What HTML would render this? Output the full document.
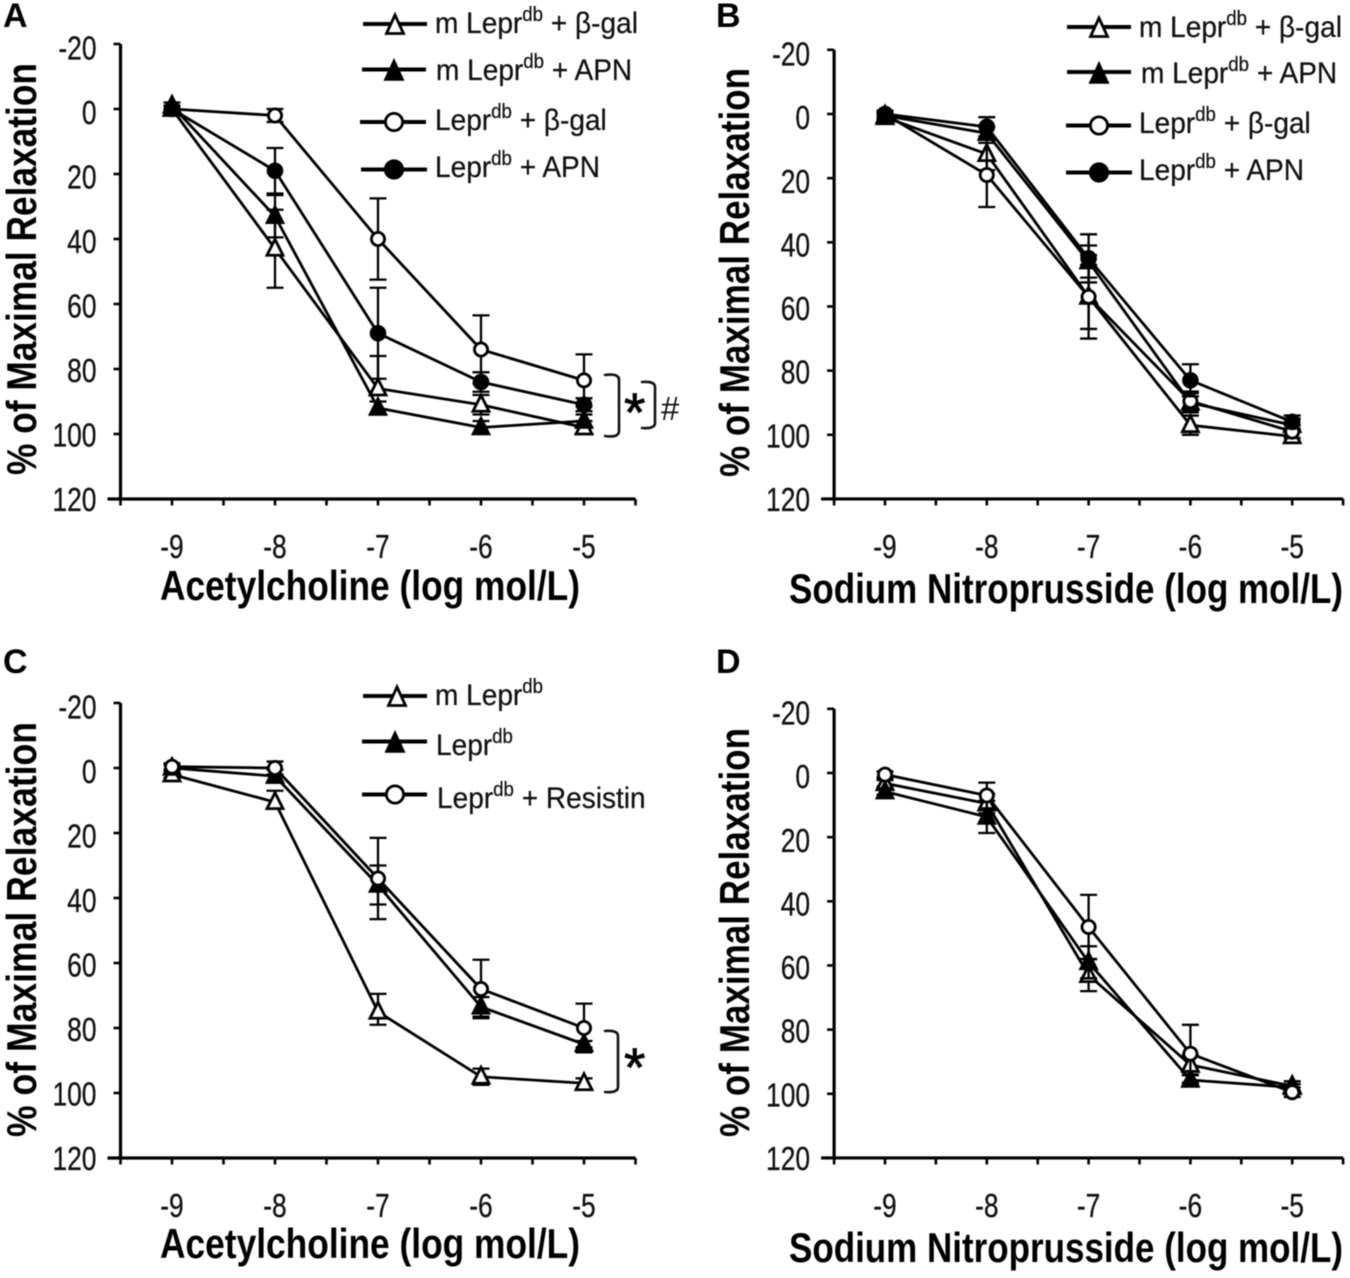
<!DOCTYPE html>
<html lang="en">
<head>
<meta charset="utf-8">
<title>Vascular relaxation dose-response curves</title>
<style>
  html, body { margin: 0; padding: 0; background: #fff; }
  svg { display: block; font-family: "Liberation Sans", sans-serif; filter: blur(0.4px); }
  .title { font-weight: bold; font-size: 42px; fill: #000; }
  .panel-letter { font-weight: bold; font-size: 34px; fill: #000; }
  .legend-text { font-size: 30px; fill: #111; stroke: #111; stroke-width: .25; }
  .legend-sup { font-size: 20px; }
  .tick-label { font-size: 33px; fill: #111; stroke: #111; stroke-width: .3; }
  .leg-line { stroke: #000; stroke-width: 4; fill: none; }
  .mark-open { fill: #fff; stroke: #000; stroke-width: 2.8; }
  .mark-filled { fill: #000; stroke: #000; stroke-width: 2.6; }
  .bracket { fill: none; stroke: #111; stroke-width: 2.6; stroke-linecap: round; stroke-linejoin: round; }
</style>
</head>
<body>
<svg id="figure" xmlns="http://www.w3.org/2000/svg" width="1350" height="1278" viewBox="0 0 1350 1278">
  <rect x="0" y="0" width="1350" height="1278" fill="#fff"/>

  <text class="panel-letter" x="3" y="27">A</text>
  <text class="panel-letter" x="716" y="27">B</text>
  <text class="panel-letter" x="3" y="673">C</text>
  <text class="panel-letter" x="716" y="673">D</text>

  <text class="title" transform="translate(36,475) rotate(-90)" textLength="412" lengthAdjust="spacingAndGlyphs">% of Maximal Relaxation</text>
  <text class="title" transform="translate(749,477) rotate(-90)" textLength="409" lengthAdjust="spacingAndGlyphs">% of Maximal Relaxation</text>
  <text class="title" transform="translate(36,1137) rotate(-90)" textLength="415" lengthAdjust="spacingAndGlyphs">% of Maximal Relaxation</text>
  <text class="title" transform="translate(749,1137) rotate(-90)" textLength="409" lengthAdjust="spacingAndGlyphs">% of Maximal Relaxation</text>

  <text class="title" x="160" y="600" textLength="420" lengthAdjust="spacingAndGlyphs">Acetylcholine (log mol/L)</text>
  <text class="title" x="789" y="603" textLength="554" lengthAdjust="spacingAndGlyphs">Sodium Nitroprusside (log mol/L)</text>
  <text class="title" x="160" y="1258" textLength="420" lengthAdjust="spacingAndGlyphs">Acetylcholine (log mol/L)</text>
  <text class="title" x="789" y="1262" textLength="554" lengthAdjust="spacingAndGlyphs">Sodium Nitroprusside (log mol/L)</text>

  <g id="charts"></g>

  <g>
    <g>
      <line class="leg-line" x1="363" y1="24" x2="427" y2="24"/>
      <polygon class="mark-open" points="395,15 386.5,33.5 403.5,33.5"/>
      <text class="legend-text" transform="translate(435,33) scale(.935,1)">m Lepr<tspan class="legend-sup" dy="-12">db</tspan><tspan dy="12"> + β-gal</tspan></text>
    </g>
    <g>
      <line class="leg-line" x1="362" y1="69.5" x2="426" y2="69.5"/>
      <polygon class="mark-filled" points="394,61 385.5,79.5 402.5,79.5"/>
      <text class="legend-text" transform="translate(436,80) scale(.935,1)">m Lepr<tspan class="legend-sup" dy="-12">db</tspan><tspan dy="12"> + APN</tspan></text>
    </g>
    <g>
      <line class="leg-line" x1="360" y1="122" x2="426" y2="122"/>
      <circle class="mark-open" cx="394" cy="122" r="8.6"/>
      <text class="legend-text" transform="translate(435,130) scale(.935,1)">Lepr<tspan class="legend-sup" dy="-12">db</tspan><tspan dy="12"> + β-gal</tspan></text>
    </g>
    <g>
      <line class="leg-line" x1="361" y1="169.5" x2="427" y2="169.5"/>
      <circle class="mark-filled" cx="394" cy="169.5" r="8.8"/>
      <text class="legend-text" transform="translate(435,177) scale(.935,1)">Lepr<tspan class="legend-sup" dy="-12">db</tspan><tspan dy="12"> + APN</tspan></text>
    </g>
  </g>

  <g>
    <g>
      <line class="leg-line" x1="1067" y1="27" x2="1131" y2="27"/>
      <polygon class="mark-open" points="1099,18 1090.5,36.5 1107.5,36.5"/>
      <text class="legend-text" transform="translate(1139,37) scale(.935,1)">m Lepr<tspan class="legend-sup" dy="-12">db</tspan><tspan dy="12"> + β-gal</tspan></text>
    </g>
    <g>
      <line class="leg-line" x1="1067" y1="72" x2="1131" y2="72"/>
      <polygon class="mark-filled" points="1099,64 1090.5,82.5 1107.5,82.5"/>
      <text class="legend-text" transform="translate(1141,83) scale(.935,1)">m Lepr<tspan class="legend-sup" dy="-12">db</tspan><tspan dy="12"> + APN</tspan></text>
    </g>
    <g>
      <line class="leg-line" x1="1066" y1="125.5" x2="1131" y2="125.5"/>
      <circle class="mark-open" cx="1099" cy="125.5" r="8.6"/>
      <text class="legend-text" transform="translate(1139,133) scale(.935,1)">Lepr<tspan class="legend-sup" dy="-12">db</tspan><tspan dy="12"> + β-gal</tspan></text>
    </g>
    <g>
      <line class="leg-line" x1="1066" y1="172.5" x2="1132" y2="172.5"/>
      <circle class="mark-filled" cx="1099" cy="172.5" r="8.8"/>
      <text class="legend-text" transform="translate(1139,180) scale(.935,1)">Lepr<tspan class="legend-sup" dy="-12">db</tspan><tspan dy="12"> + APN</tspan></text>
    </g>
  </g>

  <g>
    <g>
      <line class="leg-line" x1="363" y1="696" x2="427" y2="696"/>
      <polygon class="mark-open" points="397,687 388.5,705.5 405.5,705.5"/>
      <text class="legend-text" transform="translate(435,705) scale(.935,1)">m Lepr<tspan class="legend-sup" dy="-12">db</tspan></text>
    </g>
    <g>
      <line class="leg-line" x1="362" y1="741.5" x2="427" y2="741.5"/>
      <polygon class="mark-filled" points="395,733 386.5,751.5 403.5,751.5"/>
      <text class="legend-text" transform="translate(436,755) scale(.935,1)">Lepr<tspan class="legend-sup" dy="-12">db</tspan></text>
    </g>
    <g>
      <line class="leg-line" x1="362" y1="794.5" x2="427" y2="794.5"/>
      <circle class="mark-open" cx="395" cy="794.5" r="8.6"/>
      <text class="legend-text" transform="translate(437,808) scale(.935,1)">Lepr<tspan class="legend-sup" dy="-12">db</tspan><tspan dy="12"> + Resistin</tspan></text>
    </g>
  </g>

  <g>
    <path class="bracket" d="M605,375 Q619,373 619,380 L619,431 Q619,438 605,436"/>
    <path class="bracket" d="M642,382 Q655,381 655,387 L655,423 Q655,429 642,428"/>
    <text x="624" y="431" font-size="55" fill="#000" stroke="#000" stroke-width=".8">*</text>
    <text x="661" y="420" font-size="33" fill="#111">#</text>
  </g>
  <g>
    <path class="bracket" d="M605,1031 Q618,1030 618,1036 L618,1087 Q618,1093 605,1092"/>
    <text x="624" y="1086" font-size="55" fill="#000" stroke="#000" stroke-width=".8">*</text>
  </g>
</svg>

<script>
// Shared axis data
const concentrations = [-9, -8, -7, -6, -5];
const concentrationLabels = ["-9", "-8", "-7", "-6", "-5"];
const xTickValues = [-9.5, -9, -8.5, -8, -7.5, -7, -6.5, -6, -5.5, -5, -4.5];
const yTickValues = [-20, 0, 20, 40, 60, 80, 100, 120];
const yTickLabels = ["-20", "0", "20", "40", "60", "80", "100", "120"];

// Panel A, % relaxation and error (ErrLow overrides the lower whisker where it differs)
const aOpenTriangle = [0, 43, 86, 91, 98];
const aOpenTriangleErr = [1, 12, 10, 3, 2];
const aOpenTriangleErrLow = [1, 12, 0, 3, 2];
const aFilledTriangle = [-1, 33, 92, 98, 96];
const aFilledTriangleErr = [1, 6.5, 2, 2, 2];
const aOpenCircle = [0, 2, 40, 74, 83.5];
const aOpenCircleErr = [1, 2, 12.5, 10.5, 8];
const aFilledCircle = [0, 19, 69, 84, 91];
const aFilledCircleErr = [1, 7, 14, 3, 2];

// Panel B
const bOpenTriangle = [1, 12.5, 57, 97, 100.5];
const bOpenTriangleErr = [1, 5, 10, 3, 2];
const bFilledTriangle = [0.5, 6, 46, 90, 97];
const bFilledTriangleErr = [1, 2, 5, 3, 2];
const bOpenCircle = [0, 19, 57, 89.5, 99];
const bOpenCircleErr = [1, 10, 13, 3, 2];
const bFilledCircle = [0, 4, 45, 83, 96];
const bFilledCircleErr = [1, 3, 7.5, 5, 2];

// Panel C
const cOpenTriangle = [2, 10.5, 75, 95, 97];
const cOpenTriangleErr = [1, 3.5, 5.5, 2.5, 1.5];
const cOpenTriangleErrLow = [1, 0, 4, 2.5, 1.5];
const cFilledTriangle = [0, 2.5, 36, 73.5, 85];
const cFilledTriangleErr = [1, 2, 6, 3, 1];
const cOpenCircle = [-0.4, 0, 34, 68, 80];
const cOpenCircleErr = [1, 2, 12.5, 9, 7.5];

// Panel D
const dOpenTriangle = [3.2, 9.5, 63, 91, 97.6];
const dOpenTriangleErr = [1, 3, 5, 3, 1.5];
const dFilledTriangle = [5.8, 13.7, 59, 95.7, 98];
const dFilledTriangleErr = [1, 5, 5, 1.5, 1];
const dOpenCircle = [0.5, 7, 48, 87.5, 99.5];
const dOpenCircleErr = [1, 4, 10, 9, 1.5];

const SVG_NS = "http://www.w3.org/2000/svg";
const root = document.getElementById("charts");

function make(parent, tag, attrs) {
  const node = document.createElementNS(SVG_NS, tag);
  for (const key in attrs) node.setAttribute(key, attrs[key]);
  parent.appendChild(node);
  return node;
}

function drawPanel(panel) {
  const xPos = v => panel.x0 + (v + 9) * panel.xStep;
  const yPos = v => panel.y0 + v * panel.yUnit;
  const axisLeft = xPos(xTickValues[0]);
  const axisRight = xPos(xTickValues[xTickValues.length - 1]);
  const yMin = yTickValues[0];
  const yMax = yTickValues[yTickValues.length - 1];

  const g = make(root, "g", {});
  
  

  const yAxis = make(g, "line", { x1: axisLeft, x2: axisLeft, y1: yPos(yMin), y2: yPos(yMax), stroke: "#000", "stroke-width": 3.2 });
  
  

  const xAxis = make(g, "line", { x1: axisLeft - 13, x2: axisRight, y1: yPos(yMax), y2: yPos(yMax), stroke: "#000", "stroke-width": 3.2 });
  
  

  yTickValues.forEach((value, i) => {
    if (value !== yMax) {
      const tick = make(g, "line", { x1: axisLeft - 7, x2: axisLeft, y1: yPos(value), y2: yPos(value), stroke: "#000", "stroke-width": 2.6 });
      
      
    }
    const labelY = yPos(value) + 15.7 - (value - yMin) * 0.027;
    const label = make(g, "text", { class: "tick-label", "text-anchor": "end", transform: "translate(" + (axisLeft - 24) + "," + labelY + ") scale(.8,1)" });
    label.textContent = yTickLabels[i];
    
    
  });

  xTickValues.forEach(value => {
    const tick = make(g, "line", { x1: xPos(value), x2: xPos(value), y1: yPos(yMax), y2: yPos(yMax) + 6.5, stroke: "#000", "stroke-width": 2.6 });
    
    
  });

  concentrations.forEach((value, i) => {
    const label = make(g, "text", { class: "tick-label", "text-anchor": "middle", transform: "translate(" + xPos(value) + "," + (yPos(yMax) + 59) + ") scale(.8,1)" });
    label.textContent = concentrationLabels[i];
    
    
  });

  panel.series.forEach(series => {
    const sg = make(g, "g", {});
    
    

    const pts = concentrations.map((c, i) => xPos(c) + "," + yPos(series.values[i])).join(" ");
    const line = make(sg, "polyline", { points: pts, fill: "none", stroke: "#000", "stroke-width": 2.8, "stroke-linejoin": "round" });
    
    

    concentrations.forEach((c, i) => {
      const cx = xPos(c);
      const cy = yPos(series.values[i]);
      const lowErr = series.errorsLow ? series.errorsLow[i] : series.errors[i];
      const top = yPos(series.values[i] - series.errors[i]);
      const bottom = yPos(series.values[i] + lowErr);
      let d = "M" + (cx - 8.5) + "," + top + "H" + (cx + 8.5) + "M" + cx + "," + top + "V" + bottom;
      if (lowErr > 0) d += "M" + (cx - 8.5) + "," + bottom + "H" + (cx + 8.5);
      const err = make(sg, "path", { d: d, fill: "none", stroke: "#000", "stroke-width": 2.3 });
      
      

      const cls = series.filled ? "mark-filled" : "mark-open";
      let mark;
      if (series.shape === "triangle") {
        mark = make(sg, "polygon", { class: cls, points: cx + "," + (cy - 9.5) + " " + (cx - 8) + "," + (cy + 6.5) + " " + (cx + 8) + "," + (cy + 6.5) });
      } else {
        mark = make(sg, "circle", { class: cls, cx: cx, cy: cy, r: series.filled ? 7 : 6.6 });
      }
      
      
    });
  });
}

drawPanel({ id: "a", x0: 172, xStep: 103, y0: 109, yUnit: 3.25, series: [
  { name: "m-lepr-beta-gal", shape: "triangle", filled: false, values: aOpenTriangle, errors: aOpenTriangleErr, errorsLow: aOpenTriangleErrLow },
  { name: "m-lepr-apn", shape: "triangle", filled: true, values: aFilledTriangle, errors: aFilledTriangleErr },
  { name: "lepr-beta-gal", shape: "circle", filled: false, values: aOpenCircle, errors: aOpenCircleErr },
  { name: "lepr-apn", shape: "circle", filled: true, values: aFilledCircle, errors: aFilledCircleErr }
]});
drawPanel({ id: "b", x0: 885, xStep: 101.8, y0: 114, yUnit: 3.208, series: [
  { name: "m-lepr-beta-gal", shape: "triangle", filled: false, values: bOpenTriangle, errors: bOpenTriangleErr },
  { name: "m-lepr-apn", shape: "triangle", filled: true, values: bFilledTriangle, errors: bFilledTriangleErr },
  { name: "lepr-beta-gal", shape: "circle", filled: false, values: bOpenCircle, errors: bOpenCircleErr },
  { name: "lepr-apn", shape: "circle", filled: true, values: bFilledCircle, errors: bFilledCircleErr }
]});
drawPanel({ id: "c", x0: 172, xStep: 103, y0: 768, yUnit: 3.25, series: [
  { name: "m-lepr", shape: "triangle", filled: false, values: cOpenTriangle, errors: cOpenTriangleErr, errorsLow: cOpenTriangleErrLow },
  { name: "lepr", shape: "triangle", filled: true, values: cFilledTriangle, errors: cFilledTriangleErr },
  { name: "lepr-resistin", shape: "circle", filled: false, values: cOpenCircle, errors: cOpenCircleErr }
]});
drawPanel({ id: "d", x0: 885, xStep: 101.8, y0: 773, yUnit: 3.208, series: [
  { name: "open-triangle", shape: "triangle", filled: false, values: dOpenTriangle, errors: dOpenTriangleErr },
  { name: "filled-triangle", shape: "triangle", filled: true, values: dFilledTriangle, errors: dFilledTriangleErr },
  { name: "open-circle", shape: "circle", filled: false, values: dOpenCircle, errors: dOpenCircleErr }
]});
</script>
</body>
</html>
